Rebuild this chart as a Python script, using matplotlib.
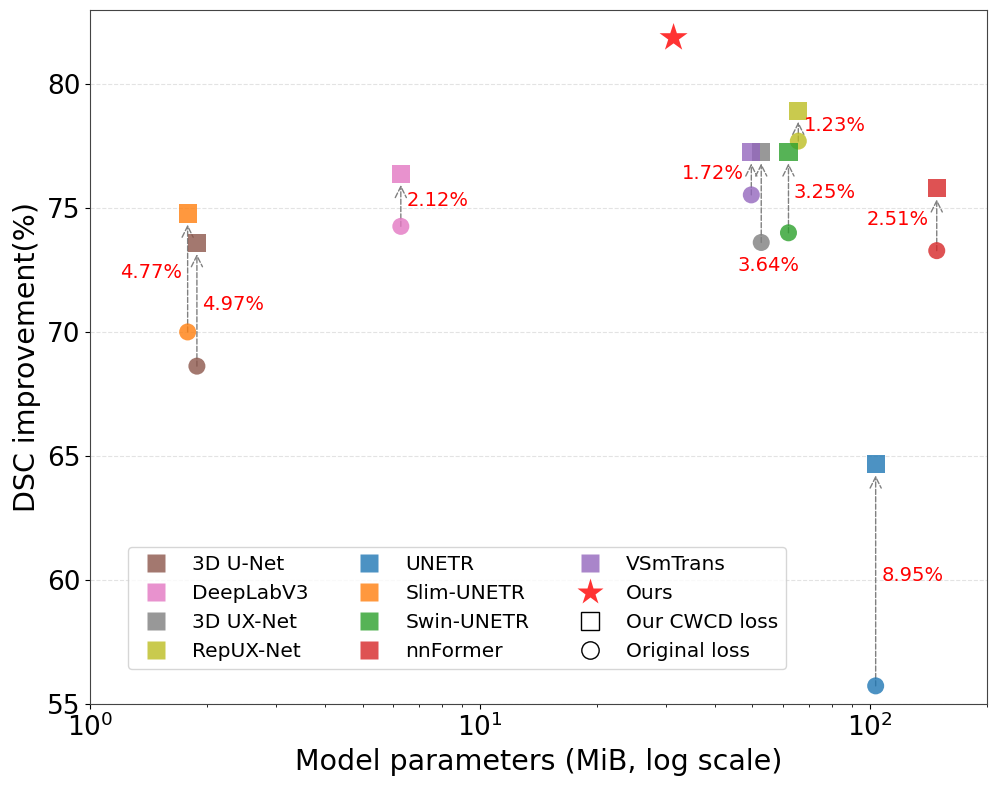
import matplotlib
matplotlib.use("Agg")
import matplotlib.pyplot as plt
from matplotlib.lines import Line2D

models = ["3D U-Net", "DeepLabV3", "3D UX-Net", "RepUX-Net", "UNETR",
          "Slim-UNETR", "Swin-UNETR", "nnFormer", "VSmTrans"]
params = [1.88, 6.27, 52.7, 65.6, 103.6, 1.78, 61.9, 148.6, 49.7]
dsc_original = [68.63, 74.27, 73.62, 77.71, 55.73, 70.01, 74.01, 73.29, 75.54]
dsc_cwcd = [73.60, 76.39, 77.26, 78.94, 64.67, 74.79, 77.26, 75.81, 77.26]
improvements = ["4.97%", "2.12%", "3.64%", "1.23%", "8.95%",
                "4.77%", "3.25%", "2.51%", "1.72%"]
ours_params = 31.4
ours_dsc = 81.88

colors = ["tab:brown", "tab:pink", "tab:gray", "tab:olive", "tab:blue",
          "tab:orange", "tab:green", "tab:red", "tab:purple"]
# label placement: (offset x px, offset y px, ha, va, anchor 'mid' or 'below')
label_style = {
    "3D U-Net": (5, 0, "left", "center", "mid"),
    "DeepLabV3": (6, 0, "left", "center", "mid"),
    "3D UX-Net": (7, -14, "center", "top", "below"),
    "RepUX-Net": (6, 0, "left", "center", "mid"),
    "UNETR": (6, 0, "left", "center", "mid"),
    "Slim-UNETR": (-6, 0, "right", "center", "mid"),
    "Swin-UNETR": (5, 0, "left", "center", "mid"),
    "nnFormer": (-8, 0, "right", "center", "mid"),
    "VSmTrans": (-7, 0, "right", "center", "mid"),
}

fig = plt.figure(figsize=(9.97, 7.87), dpi=100)
ax = fig.add_axes([0.0903, 0.1055, 0.8997, 0.8818])
ax.set_xscale("log")
ax.set_xlim(1, 200)
ax.set_ylim(55, 83)

for i, m in enumerate(models):
    x, y0, y1, c = params[i], dsc_original[i], dsc_cwcd[i], colors[i]
    ax.annotate("", xy=(x, y1), xytext=(x, y0),
                arrowprops=dict(arrowstyle="->", linestyle="--", color="gray",
                                lw=1, shrinkA=0, shrinkB=8, mutation_scale=20),
                zorder=2)
    ax.scatter([x], [y0], marker="o", s=150, color=c, alpha=0.8, edgecolors="none", zorder=3)
    ax.scatter([x], [y1], marker="s", s=170, color=c, alpha=0.8, edgecolors="none", zorder=3)
    dx, dy, ha, va, anchor = label_style[m]
    ty = (y0 + y1) / 2 if anchor == "mid" else y0
    ax.annotate(improvements[i], xy=(x, ty), xytext=(dx * 0.72, dy * 0.72),
                textcoords="offset points", ha=ha, va=va, color="red", fontsize=14, zorder=4)

ax.scatter([ours_params], [ours_dsc], marker="*", s=450, color="red", alpha=0.8,
           edgecolors="none", zorder=4)

ax.grid(axis="y", linestyle="--", color="#dddddd", alpha=0.8)
ax.set_axisbelow(True)
for sp in ax.spines.values():
    sp.set_color("#444444")
ax.tick_params(axis="both", labelsize=19)
ax.set_yticks([55, 60, 65, 70, 75, 80])
ax.set_xlabel("Model parameters (MiB, log scale)", fontsize=20.5)
ax.set_ylabel("DSC improvement(%)", fontsize=20.5)

handles = []
for m, c in zip(models, colors):
    handles.append(Line2D([], [], marker="s", linestyle="none", color=c, alpha=0.8,
                          markersize=12.5, markeredgecolor="none", label=m))
handles.append(Line2D([], [], marker="*", linestyle="none", color="red", alpha=0.8,
                      markersize=20, markeredgecolor="none", label="Ours"))
handles.append(Line2D([], [], marker="s", linestyle="none", markerfacecolor="none",
                      markeredgecolor="black", markersize=12.5, label="Our CWCD loss"))
handles.append(Line2D([], [], marker="o", linestyle="none", markerfacecolor="none",
                      markeredgecolor="black", markersize=12.5, label="Original loss"))
ax.legend(handles=handles, ncol=3, loc="lower left", bbox_to_anchor=(0.042, 0.05),
          borderaxespad=0, fontsize=14.5, frameon=True)

fig.savefig("out.png", dpi=100)
